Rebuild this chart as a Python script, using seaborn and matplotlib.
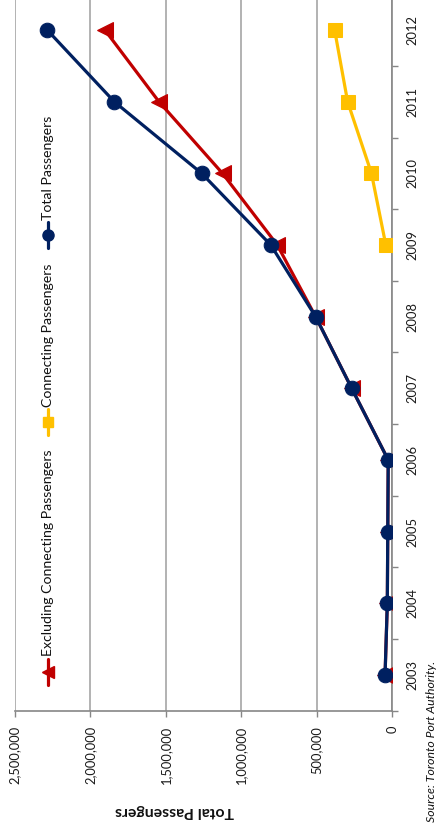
import matplotlib
matplotlib.use("Agg")
import matplotlib.pyplot as plt
from matplotlib.lines import Line2D
from matplotlib.ticker import FixedLocator, FuncFormatter
import seaborn as sns
import pandas as pd

# Passenger counts by year
years = [2003, 2004, 2005, 2006, 2007, 2008, 2009, 2010, 2011, 2012]
total_passengers = [48000, 33000, 30000, 27000, 269000, 508000, 805000, 1263000, 1842000, 2286000]
excluding_connecting = [48000, 33000, 30000, 27000, 269000, 508000, 762000, 1125000, 1546000, 1904000]
connecting_years = [2009, 2010, 2011, 2012]
connecting_passengers = [43000, 138000, 296000, 382000]

value_ticks = [0, 500000, 1000000, 1500000, 2000000, 2500000]

series_names = ["Excluding Connecting Passengers", "Connecting Passengers", "Total Passengers"]
NAVY = "#002060"
RED = "#C00000"
GOLD = "#FFC000"
AXIS_GRAY = "#868686"
GRID_GRAY = "#ADADAD"

sns.set_style("white")
plt.rcParams["font.family"] = ["Lato", "DejaVu Sans"]

W, H = 439, 830
fig = plt.figure(figsize=(W / 100, H / 100), dpi=100)


def fx(px):
    return px / W


def fy(py):
    return 1 - py / H


# Plot area (chart laid out sideways: years run up the right edge)
left_px, right_px, top_px, bottom_px = 15, 392.3, 0, 710.7
ax = fig.add_axes([fx(left_px), fy(bottom_px), fx(right_px - left_px), (bottom_px - top_px) / H])

df_excl = pd.DataFrame({"year": years, "value": excluding_connecting})
df_conn = pd.DataFrame({"year": connecting_years, "value": connecting_passengers})
df_total = pd.DataFrame({"year": years, "value": total_passengers})

line_kw = dict(orient="y", estimator=None, sort=False, linewidth=2.3, ax=ax, legend=False)
sns.lineplot(data=df_excl, x="value", y="year", color=RED, marker="<", markersize=11,
             markeredgecolor=RED, zorder=3, **line_kw)
sns.lineplot(data=df_conn, x="value", y="year", color=GOLD, marker="s", markersize=10,
             markeredgecolor=GOLD, zorder=4, **line_kw)
sns.lineplot(data=df_total, x="value", y="year", color=NAVY, marker="o", markersize=10.5,
             markeredgecolor=NAVY, zorder=5, **line_kw)

ax.set_xlim(2500000, 0)
ax.set_ylim(2002.5, 2012.42)

# Value axis along the bottom
ax.xaxis.set_major_locator(FixedLocator(value_ticks))
ax.xaxis.set_major_formatter(FuncFormatter(lambda v, p: f"{int(v):,}"))
ax.tick_params(axis="x", which="major", bottom=True, direction="out", length=4, width=1,
               color=AXIS_GRAY, labelsize=9.3, labelcolor="#1a1a1a", pad=7, labelrotation=90)
for lab in ax.get_xticklabels():
    lab.set_va("top")
ax.grid(axis="x", color=GRID_GRAY, linewidth=1.3)
ax.grid(axis="y", visible=False)

# Year axis along the right
ax.yaxis.tick_right()
ax.yaxis.set_major_locator(FixedLocator([y + 0.5 for y in range(2002, 2013)]))
ax.yaxis.set_major_formatter(FuncFormatter(lambda v, p: ""))
ax.yaxis.set_minor_locator(FixedLocator(years))
ax.yaxis.set_minor_formatter(FuncFormatter(lambda v, p: f"{int(round(v))}"))
ax.tick_params(axis="y", which="major", right=True, left=False, direction="out", length=4,
               width=1, color=AXIS_GRAY)
ax.tick_params(axis="y", which="minor", right=True, left=False, length=0, labelsize=9.3,
               labelcolor="#1a1a1a", pad=10, labelrotation=90)
for lab in ax.get_yticklabels(minor=True):
    lab.set_va("center")
    lab.set_ha("left")

ax.set_xlabel("")
ax.set_ylabel("")
for side in ("top", "left"):
    ax.spines[side].set_visible(False)
for side in ("bottom", "right"):
    ax.spines[side].set_color(AXIS_GRAY)
    ax.spines[side].set_linewidth(1.2)

# Axis title, upside down as it sits on the sideways chart
fig.text(fx(175), fy(811), "Total Passengers", rotation=180, ha="center", va="center",
         fontsize=11.3, fontweight="bold", color="#111111")

# Source note
fig.text(fx(432), fy(822), "Source: Toronto Port Authority.", rotation=90, ha="center",
         va="bottom", fontsize=8.8, style="italic", color="#111111")

# Legend, stacked along the left edge
legend_items = [
    (series_names[0], RED, "<", 8, 672, 656),
    (series_names[1], GOLD, "s", 7.5, 422, 407),
    (series_names[2], NAVY, "o", 8, 235, 220),
]
for name, color, marker, msize, key_y, text_y in legend_items:
    fig.add_artist(Line2D([fx(48), fx(48)], [fy(key_y + 13), fy(key_y - 13)], color=color,
                          linewidth=2.3, transform=fig.transFigure))
    fig.add_artist(Line2D([fx(48)], [fy(key_y)], color=color, marker=marker, markersize=msize,
                          markeredgecolor=color, linestyle="none", transform=fig.transFigure))
    fig.text(fx(48), fy(text_y), name, rotation=90, ha="center", va="bottom", fontsize=10.2,
             color="#111111")

fig.savefig("out.png", dpi=100)
